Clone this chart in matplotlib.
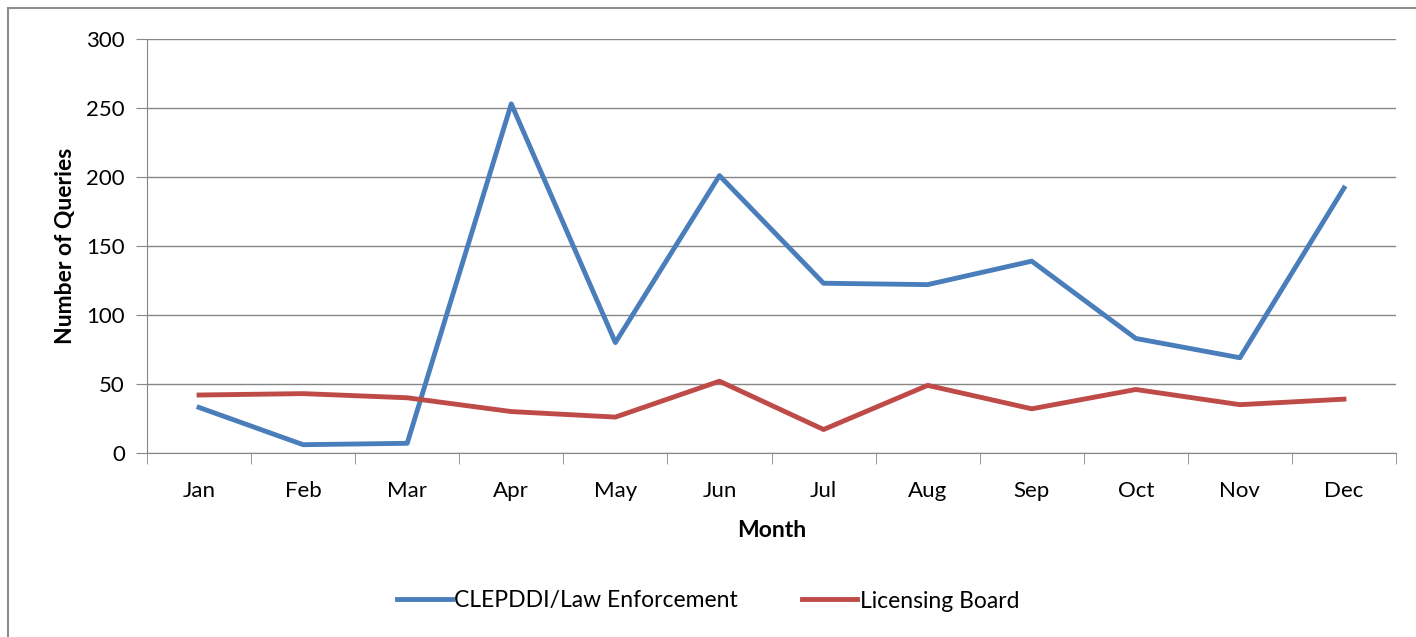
import numpy as np
import matplotlib.pyplot as plt
from matplotlib.patches import Rectangle

months = ["Jan", "Feb", "Mar", "Apr", "May", "Jun",
          "Jul", "Aug", "Sep", "Oct", "Nov", "Dec"]
law_enforcement = [33, 6, 7, 253, 80, 201, 123, 122, 139, 83, 69, 192]
licensing_board = [42, 43, 40, 30, 26, 52, 17, 49, 32, 46, 35, 39]

plt.rcParams["font.family"] = ["Lato", "DejaVu Sans"]

fig = plt.figure(figsize=(14.16, 6.37), dpi=100)
ax = fig.add_axes([0.1038, 0.2889, 0.8821, 0.6499])

# outer chart border (only left and top edges are visible in the frame)
fig.patches.append(Rectangle((8 / 1416, -0.1), 1.2, 1 - 8 / 637 + 0.1,
                             transform=fig.transFigure, fill=False,
                             edgecolor="#8c8c8c", linewidth=1.5))

x = np.arange(len(months))
ax.plot(x, law_enforcement, color="#4a7ebb", lw=3.5,
        label="CLEPDDI/Law Enforcement", solid_joinstyle="round")
ax.plot(x, licensing_board, color="#be4b48", lw=3.5,
        label="Licensing Board", solid_joinstyle="round")

ax.set_xlim(-0.5, len(months) - 0.5)
ax.set_ylim(0, 300)
ax.set_yticks(range(0, 301, 50))
ax.set_xticks(x)
ax.set_xticklabels(months)
ax.set_xticks(np.arange(-0.5, len(months), 1), minor=True)
ax.tick_params(axis="x", which="major", length=0, pad=20, labelsize=16)
ax.tick_params(axis="x", which="minor", length=8, color="#868686")
ax.tick_params(axis="y", length=8, color="#868686", labelsize=16, pad=8)

ax.grid(axis="y", color="#868686", lw=1)
ax.set_axisbelow(True)
for side in ["top", "right"]:
    ax.spines[side].set_visible(False)
for side in ["left", "bottom"]:
    ax.spines[side].set_color("#868686")

ax.set_xlabel("Month", fontsize=16.5, fontweight="bold", labelpad=14)
ax.set_ylabel("Number of Queries", fontsize=16.5, fontweight="bold", labelpad=7)

fig.legend(loc="center", bbox_to_anchor=(0.5, 1 - 601 / 637), ncol=2,
           frameon=False, fontsize=16.5, handlelength=2.4, handletextpad=0.1,
           columnspacing=2.8)

fig.savefig("out.png", dpi=100)
